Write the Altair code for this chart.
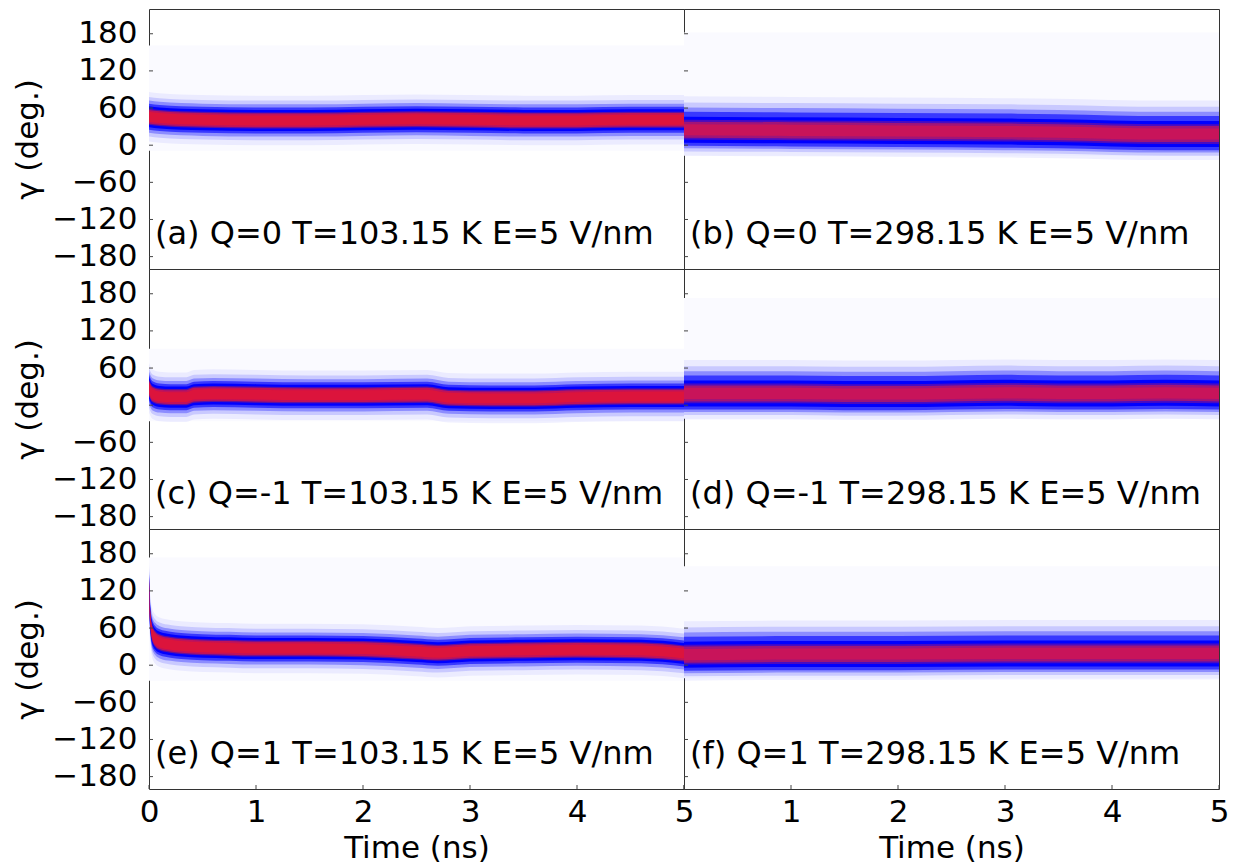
import altair as alt
import pandas as pd

# ---------------- data ----------------
LABELS = [
    "(a) Q=0 T=103.15 K E=5 V/nm",
    "(b) Q=0 T=298.15 K E=5 V/nm",
    "(c) Q=-1 T=103.15 K E=5 V/nm",
    "(d) Q=-1 T=298.15 K E=5 V/nm",
    "(e) Q=1 T=103.15 K E=5 V/nm",
    "(f) Q=1 T=298.15 K E=5 V/nm",
]

# centre of the distribution (deg) vs. time (ns) for each panel
TIME_A = [0, 0.1, 0.3, 0.5, 1, 1.5, 2, 2.5, 3, 3.5, 4, 4.5, 5]
CENTER_A = [46, 44, 42, 41, 40, 40, 41, 42, 41, 40, 40, 41, 41]

TIME_B = [0, 1, 2, 3, 3.5, 4, 4.5, 5]
CENTER_B = [25, 24, 23, 22, 21, 19, 18, 18]

TIME_C = [0, 0.03, 0.1, 0.2, 0.35, 0.42, 0.6, 1, 1.5, 2, 2.6, 2.8, 3.2, 3.6, 4, 4.5, 5]
CENTER_C = [28, 18, 14, 13, 13, 17, 18, 17, 16, 16, 17, 12, 11, 11, 13, 14, 14]

TIME_D = [0, 0.5, 1, 1.5, 2, 2.5, 3, 3.5, 4, 4.5, 5]
CENTER_D = [19, 19, 19, 18, 18, 19, 20, 19, 19, 20, 19]

TIME_E = [0, 0.01, 0.03, 0.06, 0.1, 0.2, 0.3, 0.5, 0.75, 1, 1.5, 2, 2.5, 2.7, 3, 3.5, 4, 4.6, 5]
CENTER_E = [130, 80, 52, 42, 37, 33, 31, 29, 28, 27, 27, 26, 22, 20, 23, 24, 25, 24, 19]

TIME_F = [0, 1, 2, 3, 4, 5]
CENTER_F = [17, 18, 18, 19, 19, 19]

# extent (deg) of the non-empty histogram region (faint lavender) per panel
TINT_LO = [-9, -17, -26, -22, -25, -21]
TINT_HI = [161, 182, 91, 173, 174, 160]

# spread of the distribution above / below the centre (deg), outer -> inner
SPREAD_LOW_UP = [40, 32, 26, 21, 17, 13, 11, 8]
SPREAD_LOW_DN = [40, 32, 26, 21, 17, 13, 11, 8]
SPREAD_HIGH_UP = [54, 44, 36, 29, 21, 16, 13, 9]
SPREAD_HIGH_DN = [42, 35, 30, 26, 21, 16, 13, 9]

BAND_COLORS_LOW = ["#0000ff", "#0000ff", "#0000ff", "#0000ff", "#0000ff", "#6010a0", "#c0125a", "#dc143c"]
BAND_COLORS_HIGH = ["#0000ff", "#0000ff", "#0000ff", "#0000ff", "#0000ff", "#4a0cc0", "#a01478", "#c8145a"]
BAND_OPACITY = [0.06, 0.14, 0.3, 0.6, 1, 1, 1, 1]

Y_TICKS = [-180, -120, -60, 0, 60, 120, 180]
X_TICKS = [0, 1, 2, 3, 4, 5]

W, H = 535, 260
FONT = "DejaVu Sans"

PANELS = [
    (TIME_A, CENTER_A, "low"),
    (TIME_B, CENTER_B, "high"),
    (TIME_C, CENTER_C, "low"),
    (TIME_D, CENTER_D, "high"),
    (TIME_E, CENTER_E, "low"),
    (TIME_F, CENTER_F, "high"),
]

X_SCALE = alt.Scale(domain=[0, 5], nice=False, zero=False)
Y_SCALE = alt.Scale(domain=[-200, 220], nice=False, zero=False)

AXIS_STYLE = dict(ticks=False, domain=False, grid=False, labelFont=FONT, titleFont=FONT,
                  labelFontSize=31, titleFontSize=31, titleFontWeight="normal",
                  labelColor="black", titleColor="black", labelFlush=False)


def panel(i):
    times, centers, temp = PANELS[i]
    up = SPREAD_LOW_UP if temp == "low" else SPREAD_HIGH_UP
    dn = SPREAD_LOW_DN if temp == "low" else SPREAD_HIGH_DN
    colors = BAND_COLORS_LOW if temp == "low" else BAND_COLORS_HIGH
    left = i % 2 == 0
    bottom = i >= 4

    df = pd.DataFrame({"t": times, "c": centers})
    for k in range(len(up)):
        df[f"lo{k}"] = df["c"] - dn[k]
        df[f"hi{k}"] = df["c"] + up[k]

    if left:
        yaxis = alt.Axis(values=Y_TICKS, title="γ (deg.)", labelPadding=12, titlePadding=7,
                         labelExpr="datum.value < 0 ? '\u2212' + abs(datum.value) : datum.label",
                         **AXIS_STYLE)
    else:
        yaxis = None
    if bottom:
        if left:
            xaxis = alt.Axis(values=X_TICKS, title="Time (ns)", labelPadding=8, titlePadding=6,
                             **AXIS_STYLE)
        else:
            xaxis = alt.Axis(values=X_TICKS, title="Time (ns)", labelPadding=8, titlePadding=6,
                             labelExpr="datum.value == 0 ? '' : datum.label", **AXIS_STYLE)
    else:
        xaxis = None

    tint_df = pd.DataFrame({"lo": [TINT_LO[i]], "hi": [TINT_HI[i]]})
    tint = alt.Chart(tint_df).mark_rect(color="#fafaff").encode(
        x=alt.value(0),
        x2=alt.value(W),
        y=alt.Y("lo:Q", scale=Y_SCALE, axis=yaxis),
        y2="hi:Q",
    )

    layers = [tint]
    for k in range(len(up)):
        layers.append(
            alt.Chart(df).mark_area(interpolate="monotone", color=colors[k],
                                    opacity=BAND_OPACITY[k], clip=True).encode(
                x=alt.X("t:Q", scale=X_SCALE, axis=xaxis),
                y=alt.Y(f"lo{k}:Q", scale=Y_SCALE, axis=yaxis),
                y2=f"hi{k}:Q",
            )
        )

    ytick_df = pd.DataFrame({"v": Y_TICKS})
    layers.append(
        alt.Chart(ytick_df).mark_rule(color="#444444", strokeWidth=1).encode(
            x=alt.value(0), x2=alt.value(4),
            y=alt.Y("v:Q", scale=Y_SCALE, axis=yaxis),
        )
    )
    if bottom:
        xtick_df = pd.DataFrame({"v": X_TICKS})
        layers.append(
            alt.Chart(xtick_df).mark_rule(color="#444444", strokeWidth=1).encode(
                x=alt.X("v:Q", scale=X_SCALE, axis=xaxis),
                y=alt.value(H), y2=alt.value(H - 4),
            )
        )

    layers.append(
        alt.Chart(pd.DataFrame({"label": [LABELS[i]]})).mark_text(
            align="left", baseline="alphabetic", font=FONT, fontSize=32, color="black"
        ).encode(x=alt.value(6), y=alt.value(H - 25), text="label:N")
    )

    return alt.layer(*layers).properties(width=W, height=H)


chart = alt.concat(*[panel(i) for i in range(6)], columns=2, spacing=0, bounds="flush").properties(
    padding={"left": 4, "top": 0, "right": 0, "bottom": 0},
    background="white",
).configure_view(
    stroke="#333333", strokeWidth=1
)

chart.save("out.html", embed_options={"renderer": "svg", "actions": False})
